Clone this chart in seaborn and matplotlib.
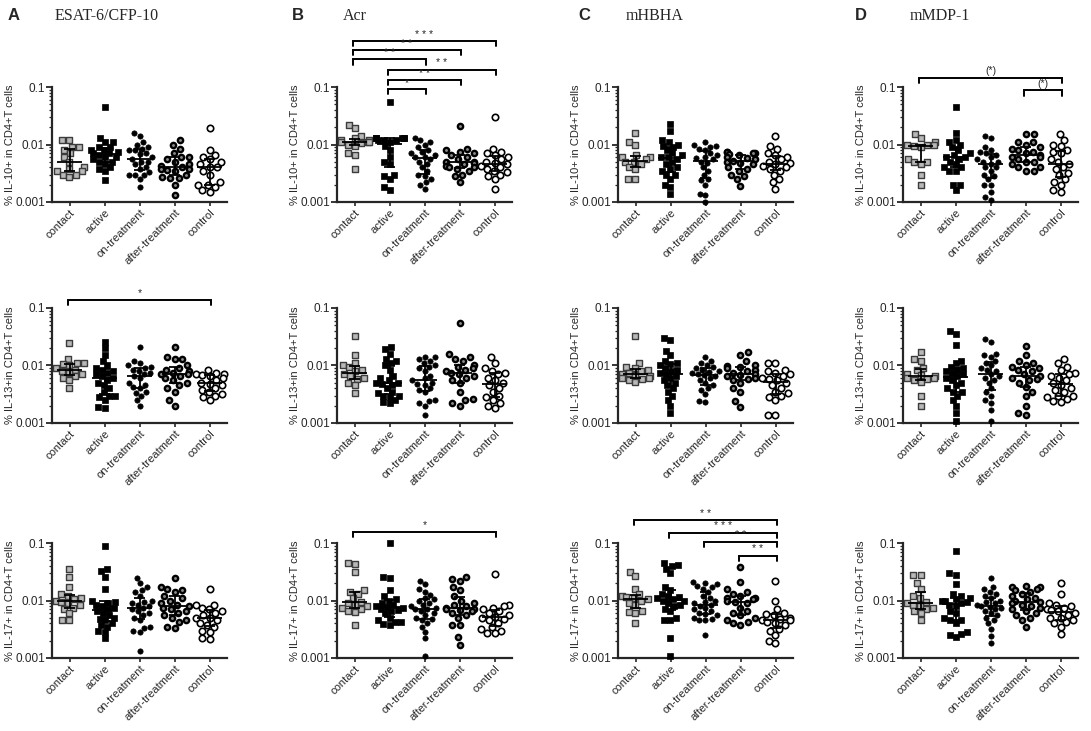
import numpy as np
import matplotlib
matplotlib.use("Agg")
import matplotlib.pyplot as plt
import seaborn as sns

# ---------------------------------------------------------
# DATA (fraction of CD4+ T cells)
# order of groups in every list: contact, active, on-, after-treatment, control
# ---------------------------------------------------------
groups = ["contact", "active", "on-treatment", "after-treatment", "control"]

esat_il10 = [
    [0.012, 0.012, 0.009, 0.009, 0.008, 0.007, 0.006, 0.005, 0.004, 0.0038, 0.0035, 0.0035, 0.003, 0.003, 0.0027],
    [0.045, 0.013, 0.011, 0.011, 0.009, 0.009, 0.008, 0.008, 0.0075, 0.007, 0.007, 0.0065, 0.006, 0.006, 0.0055, 0.005, 0.005, 0.0045, 0.004, 0.0038, 0.0035, 0.0024],
    [0.016, 0.014, 0.011, 0.01, 0.009, 0.0085, 0.008, 0.008, 0.007, 0.0068, 0.006, 0.0055, 0.005, 0.005, 0.0045, 0.004, 0.0038, 0.0033, 0.003, 0.003, 0.003, 0.0025, 0.0018],
    [0.012, 0.01, 0.0085, 0.007, 0.006, 0.006, 0.0055, 0.005, 0.0045, 0.0042, 0.004, 0.0038, 0.0037, 0.0036, 0.0035, 0.003, 0.0027, 0.0026, 0.0026, 0.002, 0.0013],
    [0.019, 0.008, 0.0065, 0.006, 0.0055, 0.005, 0.0045, 0.004, 0.004, 0.0035, 0.003, 0.0022, 0.002, 0.002, 0.0018, 0.0016, 0.0015],
]
acr_il10 = [
    [0.022, 0.019, 0.014, 0.013, 0.012, 0.012, 0.011, 0.011, 0.011, 0.0105, 0.01, 0.0095, 0.007, 0.0065, 0.0038],
    [0.055, 0.013, 0.013, 0.013, 0.013, 0.013, 0.012, 0.012, 0.012, 0.011, 0.0095, 0.008, 0.006, 0.005, 0.0045, 0.003, 0.0028, 0.0025, 0.0018, 0.0016],
    [0.013, 0.012, 0.011, 0.01, 0.009, 0.008, 0.0075, 0.007, 0.0065, 0.006, 0.006, 0.0055, 0.005, 0.0045, 0.004, 0.0035, 0.003, 0.0028, 0.0025, 0.0022, 0.002, 0.0017],
    [0.021, 0.0085, 0.008, 0.0075, 0.007, 0.0065, 0.006, 0.0055, 0.005, 0.005, 0.0048, 0.0045, 0.0042, 0.004, 0.004, 0.0038, 0.0035, 0.003, 0.0028, 0.0022],
    [0.03, 0.0085, 0.0075, 0.007, 0.0065, 0.006, 0.0055, 0.005, 0.0048, 0.0045, 0.0042, 0.004, 0.0038, 0.0035, 0.0033, 0.003, 0.0028, 0.0025, 0.0017],
]
hbha_il10 = [
    [0.016, 0.011, 0.01, 0.0065, 0.006, 0.006, 0.0055, 0.005, 0.005, 0.0045, 0.004, 0.0038, 0.0025, 0.0025],
    [0.023, 0.017, 0.012, 0.011, 0.01, 0.0095, 0.009, 0.008, 0.007, 0.0065, 0.006, 0.006, 0.0055, 0.005, 0.0045, 0.004, 0.0038, 0.0035, 0.003, 0.003, 0.0025, 0.002, 0.0018, 0.0014],
    [0.011, 0.01, 0.0095, 0.009, 0.0085, 0.008, 0.007, 0.0065, 0.006, 0.0058, 0.0055, 0.005, 0.0048, 0.004, 0.0035, 0.003, 0.0025, 0.0024, 0.002, 0.0014, 0.0013, 0.001],
    [0.0075, 0.0075, 0.0072, 0.007, 0.0068, 0.0065, 0.006, 0.0058, 0.0055, 0.0052, 0.005, 0.0048, 0.0045, 0.004, 0.0038, 0.0035, 0.003, 0.0028, 0.0025, 0.0019],
    [0.014, 0.0095, 0.0085, 0.007, 0.0065, 0.006, 0.0055, 0.005, 0.0048, 0.0045, 0.0042, 0.004, 0.0038, 0.0035, 0.003, 0.0025, 0.0022, 0.0017],
]
mdp_il10 = [
    [0.015, 0.013, 0.011, 0.01, 0.01, 0.0098, 0.0095, 0.009, 0.0055, 0.005, 0.005, 0.0045, 0.003, 0.002],
    [0.045, 0.016, 0.012, 0.011, 0.01, 0.009, 0.008, 0.007, 0.0065, 0.006, 0.006, 0.0055, 0.005, 0.0045, 0.004, 0.004, 0.0035, 0.0035, 0.002, 0.002, 0.0016],
    [0.014, 0.013, 0.009, 0.008, 0.0075, 0.007, 0.0065, 0.006, 0.0055, 0.005, 0.005, 0.0045, 0.004, 0.004, 0.0035, 0.003, 0.0028, 0.0025, 0.002, 0.002, 0.0015, 0.0012, 0.0011],
    [0.015, 0.015, 0.011, 0.011, 0.01, 0.009, 0.0085, 0.008, 0.0075, 0.007, 0.0065, 0.006, 0.006, 0.0055, 0.005, 0.005, 0.0045, 0.004, 0.004, 0.0035, 0.0035],
    [0.015, 0.012, 0.01, 0.0095, 0.008, 0.0075, 0.007, 0.0055, 0.005, 0.0045, 0.004, 0.0038, 0.0032, 0.003, 0.0025, 0.0022, 0.002, 0.0016, 0.0015],
]

esat_il13 = [
    [0.025, 0.013, 0.011, 0.011, 0.0105, 0.01, 0.009, 0.0085, 0.008, 0.0075, 0.007, 0.0065, 0.006, 0.0055, 0.004],
    [0.026, 0.02, 0.015, 0.012, 0.01, 0.009, 0.0085, 0.008, 0.0075, 0.007, 0.0065, 0.006, 0.0055, 0.005, 0.0045, 0.004, 0.0035, 0.003, 0.003, 0.0028, 0.0025, 0.0019, 0.0018],
    [0.021, 0.012, 0.011, 0.01, 0.0095, 0.009, 0.0085, 0.008, 0.0075, 0.007, 0.0065, 0.006, 0.005, 0.0045, 0.0042, 0.004, 0.0035, 0.0033, 0.003, 0.0025, 0.002],
    [0.021, 0.014, 0.013, 0.013, 0.01, 0.009, 0.0085, 0.008, 0.0075, 0.0072, 0.007, 0.0065, 0.006, 0.0055, 0.005, 0.0045, 0.004, 0.0035, 0.0025, 0.002],
    [0.0085, 0.0075, 0.007, 0.007, 0.0068, 0.0065, 0.006, 0.0055, 0.005, 0.0048, 0.0045, 0.004, 0.0038, 0.0035, 0.0032, 0.003, 0.0028, 0.0025],
]
acr_il13 = [
    [0.033, 0.015, 0.011, 0.01, 0.0095, 0.0085, 0.008, 0.007, 0.0065, 0.006, 0.0058, 0.005, 0.0045, 0.0033],
    [0.021, 0.019, 0.016, 0.013, 0.012, 0.011, 0.01, 0.0085, 0.0065, 0.006, 0.0055, 0.005, 0.005, 0.0048, 0.0045, 0.004, 0.0035, 0.0033, 0.003, 0.003, 0.0028, 0.0025, 0.0023, 0.0022],
    [0.014, 0.014, 0.013, 0.012, 0.011, 0.01, 0.0095, 0.009, 0.008, 0.0065, 0.006, 0.0055, 0.005, 0.0048, 0.0045, 0.004, 0.0038, 0.0035, 0.0025, 0.0024, 0.0022, 0.002, 0.0014],
    [0.055, 0.016, 0.014, 0.013, 0.012, 0.01, 0.0095, 0.009, 0.0085, 0.008, 0.0075, 0.007, 0.0065, 0.006, 0.0055, 0.005, 0.0035, 0.0026, 0.0025, 0.0022, 0.002],
    [0.014, 0.011, 0.009, 0.008, 0.0075, 0.007, 0.006, 0.0055, 0.005, 0.0045, 0.004, 0.0035, 0.003, 0.0028, 0.0025, 0.0022, 0.002, 0.0018],
]
hbha_il13 = [
    [0.033, 0.011, 0.0095, 0.009, 0.0085, 0.008, 0.0075, 0.007, 0.0068, 0.0065, 0.006, 0.006, 0.0058, 0.0055, 0.0052],
    [0.03, 0.028, 0.018, 0.015, 0.012, 0.011, 0.0105, 0.01, 0.009, 0.0085, 0.008, 0.0075, 0.007, 0.0065, 0.006, 0.0055, 0.005, 0.0045, 0.004, 0.0035, 0.003, 0.0025, 0.002, 0.0015],
    [0.014, 0.012, 0.011, 0.01, 0.0095, 0.009, 0.0085, 0.008, 0.0078, 0.0075, 0.007, 0.0068, 0.0065, 0.006, 0.0055, 0.005, 0.0045, 0.004, 0.0038, 0.0032, 0.0024, 0.0023],
    [0.017, 0.015, 0.012, 0.01, 0.0098, 0.0095, 0.009, 0.0085, 0.008, 0.0075, 0.007, 0.0068, 0.0065, 0.006, 0.0058, 0.0055, 0.005, 0.004, 0.0035, 0.0024, 0.0019],
    [0.011, 0.011, 0.0085, 0.008, 0.0075, 0.007, 0.0065, 0.006, 0.0058, 0.0055, 0.005, 0.0045, 0.004, 0.0035, 0.0033, 0.003, 0.0028, 0.0025, 0.0014, 0.0014],
]
mdp_il13 = [
    [0.017, 0.013, 0.012, 0.009, 0.0085, 0.007, 0.0068, 0.0065, 0.006, 0.006, 0.0058, 0.0055, 0.0052, 0.003, 0.002],
    [0.04, 0.036, 0.023, 0.012, 0.011, 0.0095, 0.009, 0.0085, 0.008, 0.0075, 0.007, 0.0065, 0.006, 0.0055, 0.005, 0.0045, 0.004, 0.0035, 0.0035, 0.003, 0.0025, 0.002, 0.0015, 0.0011],
    [0.029, 0.026, 0.016, 0.015, 0.014, 0.012, 0.011, 0.01, 0.009, 0.0085, 0.008, 0.007, 0.0065, 0.006, 0.0055, 0.005, 0.004, 0.0035, 0.003, 0.0025, 0.0022, 0.0017, 0.0011],
    [0.022, 0.015, 0.012, 0.011, 0.01, 0.0095, 0.009, 0.0085, 0.008, 0.007, 0.0065, 0.006, 0.0058, 0.0055, 0.005, 0.0042, 0.0035, 0.003, 0.002, 0.0015, 0.0014],
    [0.013, 0.011, 0.0095, 0.0085, 0.0075, 0.007, 0.0065, 0.006, 0.0055, 0.005, 0.0045, 0.004, 0.0038, 0.0035, 0.003, 0.003, 0.0028, 0.0026, 0.0024, 0.0023],
]

esat_il17 = [
    [0.035, 0.026, 0.017, 0.013, 0.012, 0.011, 0.0105, 0.01, 0.0095, 0.009, 0.0085, 0.0075, 0.007, 0.006, 0.0045, 0.0045],
    [0.09, 0.036, 0.032, 0.026, 0.016, 0.01, 0.0095, 0.009, 0.0085, 0.008, 0.0075, 0.007, 0.0065, 0.006, 0.0055, 0.005, 0.0048, 0.0045, 0.004, 0.0038, 0.0035, 0.003, 0.0028, 0.0022],
    [0.025, 0.02, 0.017, 0.015, 0.014, 0.012, 0.01, 0.0095, 0.009, 0.0085, 0.008, 0.0075, 0.007, 0.0065, 0.006, 0.0055, 0.005, 0.0045, 0.0035, 0.0033, 0.003, 0.0028, 0.0013],
    [0.025, 0.017, 0.016, 0.015, 0.014, 0.012, 0.011, 0.01, 0.009, 0.0085, 0.008, 0.0075, 0.007, 0.0065, 0.006, 0.0055, 0.005, 0.0045, 0.0043, 0.0035, 0.0033],
    [0.016, 0.0085, 0.0085, 0.0075, 0.007, 0.0065, 0.006, 0.0055, 0.005, 0.005, 0.0045, 0.004, 0.0038, 0.0035, 0.003, 0.0028, 0.0022, 0.0021],
]
acr_il17 = [
    [0.045, 0.043, 0.031, 0.015, 0.014, 0.013, 0.011, 0.0095, 0.009, 0.0085, 0.008, 0.0075, 0.007, 0.0065, 0.0063, 0.0038],
    [0.099, 0.026, 0.025, 0.015, 0.012, 0.0105, 0.01, 0.009, 0.0085, 0.008, 0.0078, 0.0075, 0.007, 0.0068, 0.0065, 0.006, 0.005, 0.0045, 0.0043, 0.0042, 0.0039, 0.0038],
    [0.022, 0.019, 0.016, 0.014, 0.0125, 0.011, 0.0105, 0.01, 0.009, 0.0085, 0.008, 0.0075, 0.0072, 0.007, 0.0065, 0.006, 0.0055, 0.005, 0.0048, 0.0045, 0.004, 0.0035, 0.0028, 0.0022, 0.0011],
    [0.026, 0.024, 0.022, 0.017, 0.015, 0.012, 0.01, 0.009, 0.0085, 0.008, 0.0075, 0.0072, 0.007, 0.0068, 0.0065, 0.006, 0.0055, 0.005, 0.0038, 0.0037, 0.0023, 0.0017],
    [0.029, 0.0085, 0.008, 0.0075, 0.007, 0.0065, 0.006, 0.0055, 0.0052, 0.005, 0.0048, 0.0045, 0.004, 0.0035, 0.0032, 0.003, 0.0027, 0.0027],
]
hbha_il17 = [
    [0.031, 0.027, 0.016, 0.013, 0.012, 0.0115, 0.011, 0.0105, 0.01, 0.009, 0.0085, 0.0065, 0.0063, 0.006, 0.004],
    [0.045, 0.042, 0.04, 0.036, 0.03, 0.017, 0.015, 0.013, 0.012, 0.0115, 0.011, 0.0105, 0.01, 0.01, 0.009, 0.0085, 0.008, 0.007, 0.0065, 0.005, 0.0045, 0.0045, 0.0022, 0.0011],
    [0.021, 0.02, 0.019, 0.018, 0.017, 0.016, 0.014, 0.012, 0.011, 0.01, 0.0095, 0.009, 0.0085, 0.008, 0.0075, 0.007, 0.0065, 0.006, 0.0058, 0.0055, 0.005, 0.0048, 0.0045, 0.0045, 0.0025],
    [0.039, 0.021, 0.016, 0.014, 0.013, 0.012, 0.011, 0.011, 0.0105, 0.01, 0.0095, 0.009, 0.0075, 0.0065, 0.006, 0.0055, 0.005, 0.0045, 0.0042, 0.004, 0.0038],
    [0.022, 0.01, 0.007, 0.006, 0.0058, 0.0055, 0.005, 0.0048, 0.0045, 0.0045, 0.0043, 0.004, 0.0038, 0.0032, 0.003, 0.0025, 0.002, 0.0018],
]
mdp_il17 = [
    [0.028, 0.028, 0.02, 0.016, 0.012, 0.011, 0.0095, 0.009, 0.0085, 0.008, 0.0075, 0.007, 0.0065, 0.006, 0.0045],
    [0.072, 0.03, 0.028, 0.019, 0.013, 0.012, 0.011, 0.0105, 0.01, 0.01, 0.0095, 0.009, 0.0085, 0.008, 0.0065, 0.006, 0.005, 0.0045, 0.0045, 0.004, 0.0028, 0.0026, 0.0025, 0.0023],
    [0.025, 0.017, 0.016, 0.014, 0.013, 0.012, 0.011, 0.01, 0.0095, 0.009, 0.0085, 0.008, 0.0078, 0.0075, 0.007, 0.0065, 0.006, 0.0055, 0.005, 0.0045, 0.004, 0.0032, 0.0024, 0.0018],
    [0.018, 0.017, 0.017, 0.016, 0.015, 0.014, 0.013, 0.012, 0.011, 0.0105, 0.01, 0.0095, 0.009, 0.0085, 0.008, 0.0075, 0.007, 0.0065, 0.006, 0.0055, 0.005, 0.0045, 0.0034],
    [0.02, 0.013, 0.009, 0.0085, 0.008, 0.0075, 0.007, 0.0068, 0.0065, 0.006, 0.0055, 0.005, 0.005, 0.0045, 0.0042, 0.004, 0.0035, 0.0026],
]

panel_letters = ["A", "B", "C", "D"]
antigens = ["ESAT-6/CFP-10", "Acr", "mHBHA", "mMDP-1"]
ylabels = ["% IL-10+ in CD4+T cells", "% IL-13+in CD4+T cells", "% IL-17+ in CD4+T cells"]

panels = [
    [esat_il10, acr_il10, hbha_il10, mdp_il10],
    [esat_il13, acr_il13, hbha_il13, mdp_il13],
    [esat_il17, acr_il17, hbha_il17, mdp_il17],
]

# significance brackets: (row, col) -> list of (group i, group j, height in axes fraction, label)
brackets = {
    (0, 1): [(0, 4, 1.40, "* * *"), (0, 3, 1.32, "* *"), (0, 2, 1.24, "* *"),
             (1, 4, 1.15, "* *"), (1, 3, 1.06, "* *"), (1, 2, 0.98, "*")],
    (0, 3): [(0, 4, 1.08, "(*)"), (3, 4, 0.97, "(*)")],
    (1, 0): [(0, 4, 1.07, "*")],
    (2, 1): [(0, 4, 1.10, "*")],
    (2, 2): [(0, 4, 1.20, "* *"), (1, 4, 1.09, "* * *"), (2, 4, 1.01, "* *"), (3, 4, 0.89, "* *")],
}

# marker style per group
styles = [
    dict(marker="s", color="#b8b8b8", edgecolor="#3c3c3c", linewidth=1.0),
    dict(marker="s", color="black", edgecolor="black", linewidth=0.5),
    dict(marker="o", color="black", edgecolor="black", linewidth=0.5),
    dict(marker="o", color="#8a8a8a", edgecolor="black", linewidth=1.7),
    dict(marker="o", color="white", edgecolor="black", linewidth=1.2),
]
swarm_size = 3.8   # spacing used for the swarm layout
shown_size = 4.6   # size the markers are drawn with (Prism lets them overlap a bit)

sns.set_theme(style="ticks")
plt.rcParams["font.family"] = ["Liberation Sans", "DejaVu Sans"]

W, H = 1091, 731
fig = plt.figure(figsize=(W / 100, H / 100), dpi=100)

col_left = [52, 337, 618, 903]
row_top = [87, 308, 543]
ax_w, ax_h = 175, 115

swarm_colls = []
for r in range(3):
    for c in range(4):
        ax = fig.add_axes([col_left[c] / W, 1 - (row_top[r] + ax_h) / H, ax_w / W, ax_h / H])
        ax.set_yscale("log")
        data = panels[r][c]
        for g, vals in enumerate(data):
            st = styles[g]
            sns.swarmplot(x=[groups[g]] * len(vals), y=vals, order=groups, ax=ax,
                          size=swarm_size, clip_on=False, zorder=3, **st)
            swarm_colls.append((ax, g, ax.collections[-1]))
            med = np.median(vals)
            q1, q3 = np.percentile(vals, [25, 75])
            ax.hlines(med, g - 0.36, g + 0.36, color="black", lw=1.3, zorder=5)
            ax.vlines(g, q1, q3, color="black", lw=1.3, zorder=5)
            ax.hlines([q1, q3], g - 0.17, g + 0.17, color="black", lw=1.3, zorder=5)

        ax.set_xlim(-0.5, 4.5)
        ax.set_ylim(0.001, 0.1)
        ax.set_yticks([0.001, 0.01, 0.1])
        ax.set_yticklabels(["0.001", "0.01", "0.1"])
        ax.tick_params(axis="y", which="major", length=4, width=1.3, labelsize=8.5, pad=1)
        ax.tick_params(axis="y", which="minor", length=2.5, width=0.9)
        ax.tick_params(axis="x", length=3, width=1.2, labelsize=8, pad=1)
        ax.set_xticks(range(5))
        ax.set_xticklabels(groups, rotation=45, ha="right", rotation_mode="anchor")
        ax.set_xlabel("")
        ax.set_ylabel(ylabels[r], fontsize=8, labelpad=0)
        sns.despine(ax=ax)
        for sp in ["left", "bottom"]:
            ax.spines[sp].set_linewidth(1.6)

        for (i, j, h, lab) in brackets.get((r, c), []):
            tr = ax.get_xaxis_transform()
            ax.plot([i - 0.05, i - 0.05, j + 0.05, j + 0.05], [h - 0.045, h, h, h - 0.045],
                    transform=tr, color="black", lw=1.4, clip_on=False,
                    solid_joinstyle="miter")
            ax.text((i + j) / 2, h + 0.012, lab, transform=tr, ha="center", va="bottom",
                    fontsize=7.5)

# lay out the swarms, then freeze them and draw the markers a bit larger
fig.canvas.draw()
for ax, g, coll in swarm_colls:
    if "draw" in coll.__dict__:
        del coll.draw
    coll.set_sizes([shown_size ** 2])
    if g == 0:
        # "square with dot" look of the contact markers
        offs = coll.get_offsets()
        ax.scatter(offs[:, 0], offs[:, 1], marker="s", s=5, color="white",
                   linewidths=0, zorder=4, clip_on=False)

letter_x = [8, 292, 578, 855]
title_x = [55, 343, 626, 910]
for c in range(4):
    fig.text(letter_x[c] / W, 1 - 15 / H, panel_letters[c], fontsize=12, fontweight="bold",
             va="center", ha="left")
    fig.text(title_x[c] / W, 1 - 16 / H, antigens[c], fontsize=11.5,
             family=["Liberation Serif", "DejaVu Serif"], va="center", ha="left")

fig.savefig("out.png", dpi=100)
